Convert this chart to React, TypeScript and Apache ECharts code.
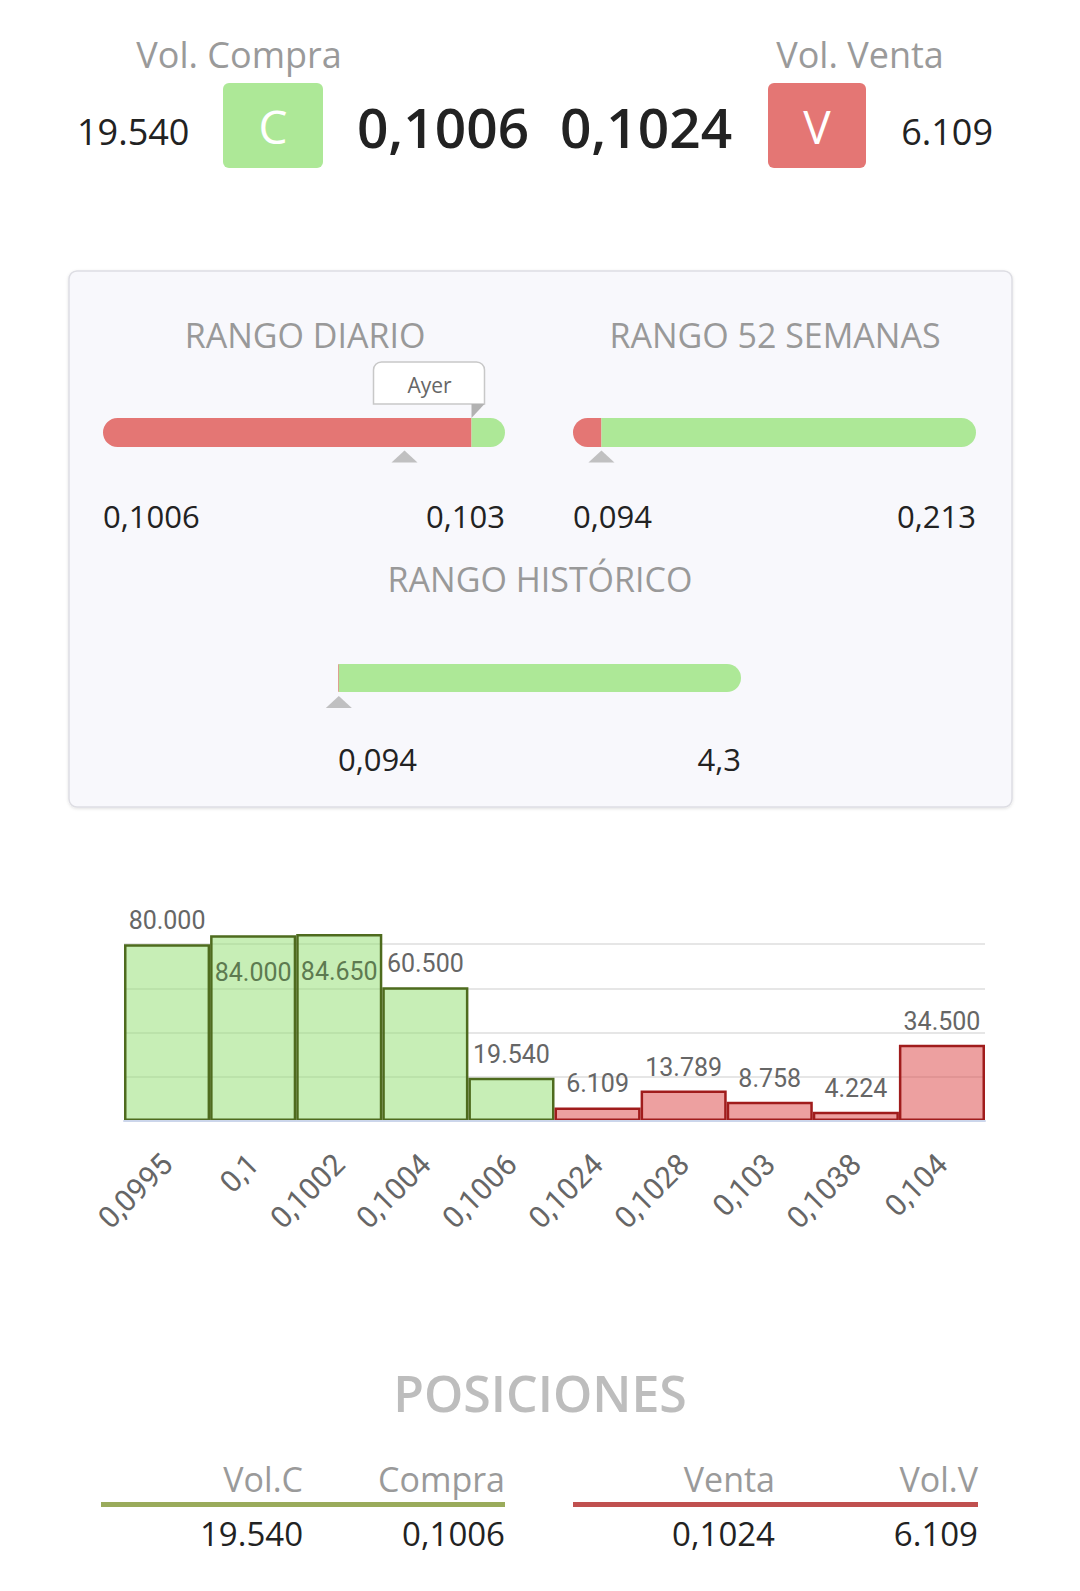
import React, { useEffect, useRef } from 'react';
import * as echarts from 'echarts';

// ---------- data ----------
const volCompra = 19540;
const precioCompra = 0.1006;
const precioVenta = 0.1024;
const volVenta = 6109;

const rangeTitles = ['RANGO DIARIO', 'RANGO 52 SEMANAS', 'RANGO HISTÓRICO'];
const rangeMin = [0.1006, 0.094, 0.094];
const rangeMax = [0.103, 0.213, 4.3];
const rangeSplit = [0.1028, 0.1024, 0.1024];
const rangeMarker = [0.1024, 0.1024, 0.1024];
const ayerValue = 0.1028;

const priceCategories = ['0,0995', '0,1', '0,1002', '0,1004', '0,1006', '0,1024', '0,1028', '0,103', '0,1038', '0,104'];
const volumes = [80000, 84000, 84650, 60500, 19540, 6109, 13789, 8758, 4224, 34500];
const sides = ['C', 'C', 'C', 'C', 'C', 'V', 'V', 'V', 'V', 'V'];

const posHeaders = ['Vol.C', 'Compra', 'Venta', 'Vol.V'];
const posValues = ['19.540', '0,1006', '0,1024', '6.109'];

// ---------- styles ----------
const GREEN = '#ade897';
const RED = '#e47674';
const FONT = '"Open Sans", "Noto Sans", sans-serif';

const fmtPrice = (v: number) => String(v).replace('.', ',');
const fmtVol = (v: number) => String(v).replace(/\B(?=(\d{3})+(?!\d))/g, '.');

function txt(text: string, x: number, y: number, size: number, color: string, align = 'center', weight = 400) {
  return {
    type: 'text',
    x,
    y,
    z: 10,
    style: {
      text,
      fill: color,
      font: `${weight} ${size}px ${FONT}`,
      textAlign: align,
      align,
      textVerticalAlign: 'middle',
      verticalAlign: 'middle',
    },
  };
}

const rangeGrids = [
  { left: 103, top: 418, width: 402, height: 29 },
  { left: 573, top: 418, width: 403, height: 29 },
  { left: 338, top: 664, width: 403, height: 28 },
];
const rangeTitlePos = [
  [305, 335],
  [775, 335],
  [540, 579],
];

function buildOption() {
  const graphic: any[] = [
    // header
    txt('Vol. Compra', 239, 54, 36, '#9a9a9a'),
    txt('Vol. Venta', 860, 54, 36, '#9a9a9a'),
    txt(fmtVol(volCompra), 77, 131, 36, '#222', 'left'),
    { type: 'rect', z: 5, shape: { x: 223, y: 83, width: 100, height: 85, r: 6 }, style: { fill: GREEN } },
    txt('C', 273, 126, 46, '#fff'),
    txt(fmtPrice(precioCompra), 443, 126, 55, '#222', 'center', 600),
    txt(fmtPrice(precioVenta), 646, 126, 55, '#222', 'center', 600),
    { type: 'rect', z: 5, shape: { x: 768, y: 83, width: 98, height: 85, r: 6 }, style: { fill: RED } },
    txt('V', 817, 126, 46, '#fff'),
    txt(fmtVol(volVenta), 993, 131, 36, '#222', 'right'),
    // panel
    {
      type: 'rect',
      z: -1,
      shape: { x: 69, y: 271, width: 943, height: 536, r: 8 },
      style: {
        fill: '#f8f8fc',
        stroke: '#dddde3',
        lineWidth: 1.5,
        shadowBlur: 3,
        shadowOffsetY: 1,
        shadowColor: 'rgba(0,0,0,0.12)',
      },
    },
    ...rangeTitles.map((t, i) => txt(t, rangeTitlePos[i][0], rangeTitlePos[i][1], 34, '#999')),
    // posiciones
    txt('POSICIONES', 540, 1393, 50, '#bdbdbd', 'center', 600),
    { type: 'rect', shape: { x: 101, y: 1502, width: 404, height: 5 }, style: { fill: '#9aab5b' } },
    { type: 'rect', shape: { x: 573, y: 1502, width: 405, height: 5 }, style: { fill: '#c0504f' } },
  ];
  const posX = [303, 505, 775, 978];
  posHeaders.forEach((h, i) => graphic.push(txt(h, posX[i], 1479, 34, '#9a9a9a', 'right')));
  posValues.forEach((v, i) => graphic.push(txt(v, posX[i], 1533, 33, '#222', 'right', 500)));

  const grids: any[] = rangeGrids.map((g) => ({ ...g }));
  grids.push({ left: 124, top: 900, width: 861, height: 221 });

  const xAxes: any[] = rangeMin.map((mn, i) => ({
    type: 'value',
    gridIndex: i,
    min: mn,
    max: rangeMax[i],
    axisLine: { show: false },
    axisTick: { show: false },
    splitLine: { show: false },
    axisLabel: {
      customValues: [mn, rangeMax[i]],
      formatter: (v: number) => fmtPrice(v),
      fontSize: 31,
      fontWeight: 500,
      color: '#222',
      fontFamily: FONT,
      margin: i === 2 ? 51 : 53,
      alignMinLabel: 'left',
      alignMaxLabel: 'right',
      showMinLabel: true,
      showMaxLabel: true,
    },
  }));
  xAxes.push({
    type: 'category',
    gridIndex: 3,
    data: priceCategories,
    z: 5,
    axisLine: { lineStyle: { color: '#ccd6eb', width: 2 } },
    axisTick: { show: false },
    axisLabel: {
      rotate: 45,
      interval: 0,
      margin: 38,
      fontSize: 30,
      color: '#666',
      fontFamily: 'Roboto',
    },
  });

  const yAxes: any[] = rangeMin.map((_, i) => ({ type: 'category', gridIndex: i, data: ['r'], show: false }));
  yAxes.push({
    type: 'value',
    gridIndex: 3,
    min: 0,
    max: 100000,
    interval: 20000,
    axisLabel: { show: false },
    axisLine: { show: false },
    axisTick: { show: false },
    splitLine: { show: true, showMaxLine: false, lineStyle: { color: '#e6e6e6', width: 2 } },
  });

  const series: any[] = [];
  rangeMin.forEach((mn, i) => {
    series.push({
      type: 'custom',
      xAxisIndex: i,
      yAxisIndex: i,
      clip: false,
      silent: true,
      encode: { x: [0, 1], y: 2 },
      data: [
        { value: [mn, rangeSplit[i], 0], itemStyle: { color: RED } },
        { value: [rangeSplit[i], rangeMax[i], 0], itemStyle: { color: GREEN } },
      ],
      renderItem: (params: any, api: any) => {
        const a = api.coord([api.value(0), api.value(2)]);
        const b = api.coord([api.value(1), api.value(2)]);
        const h = api.size([0, 1])[1];
        const r = h / 2;
        const first = params.dataIndex === 0;
        return {
          type: 'rect',
          shape: {
            x: a[0],
            y: a[1] - h / 2,
            width: Math.max(b[0] - a[0], 0),
            height: h,
            r: first ? [r, 0, 0, r] : [0, r, r, 0],
          },
          style: { fill: api.visual('color') },
        };
      },
    });
    series.push({
      type: 'scatter',
      xAxisIndex: i,
      yAxisIndex: i,
      clip: false,
      silent: true,
      data: [[rangeMarker[i], 0]],
      symbol: 'triangle',
      symbolSize: [26, 12],
      symbolOffset: [0, 24],
      itemStyle: { color: '#b2b2b2' },
    });
  });
  series.push({
    type: 'custom',
    xAxisIndex: 0,
    yAxisIndex: 0,
    clip: false,
    silent: true,
    encode: { x: 0, y: 1 },
    data: [[ayerValue, 0]],
    renderItem: (params: any, api: any) => {
      const p = api.coord([api.value(0), api.value(1)]);
      const top = p[1] - api.size([0, 1])[1] / 2;
      return {
        type: 'group',
        children: [
          {
            type: 'rect',
            shape: { x: p[0] - 98, y: top - 56, width: 111, height: 42, r: [8, 8, 0, 0] },
            style: { fill: '#ffffff', stroke: '#c8c8c8', lineWidth: 1.5 },
          },
          {
            type: 'polygon',
            shape: { points: [[p[0], top - 14], [p[0] + 13, top - 14], [p[0], top]] },
            style: { fill: '#b2b2b2' },
          },
          {
            type: 'text',
            style: {
              text: 'Ayer',
              x: p[0] - 42,
              y: top - 33,
              textAlign: 'center',
              align: 'center',
              textVerticalAlign: 'middle',
              verticalAlign: 'middle',
              fill: '#666',
              font: `400 21px ${FONT}`,
            },
          },
        ],
      };
    },
  });

  series.push({
    type: 'bar',
    xAxisIndex: 3,
    yAxisIndex: 3,
    barCategoryGap: '0%',
    silent: true,
    label: {
      show: true,
      position: 'top',
      distance: 11,
      formatter: (p: any) => fmtVol(p.value),
      fontSize: 25,
      color: '#666',
      fontFamily: 'Roboto',
    },
    data: volumes.map((v, i) => ({
      value: v,
      itemStyle:
        sides[i] === 'C'
          ? { color: 'rgba(144,221,110,0.5)', borderColor: '#4e6b1e', borderWidth: 2.5 }
          : { color: 'rgba(220,65,65,0.5)', borderColor: '#a01c1c', borderWidth: 2.5 },
      label: v >= 84000 ? { position: 'insideTop', distance: 25, color: '#5d7a50' } : {},
    })),
  });

  return {
    animation: false,
    textStyle: { fontFamily: FONT },
    grid: grids,
    xAxis: xAxes,
    yAxis: yAxes,
    series,
    graphic,
  };
}

export default function App() {
  const ref = useRef<HTMLDivElement>(null);
  useEffect(() => {
    document.body.style.margin = '0';
    const chart = echarts.init(ref.current as HTMLDivElement, null, { renderer: 'svg' });
    chart.setOption(buildOption() as any);
    return () => chart.dispose();
  }, []);
  return <div ref={ref} style={{ width: 1080, height: 1591, background: '#fff' }} />;
}
